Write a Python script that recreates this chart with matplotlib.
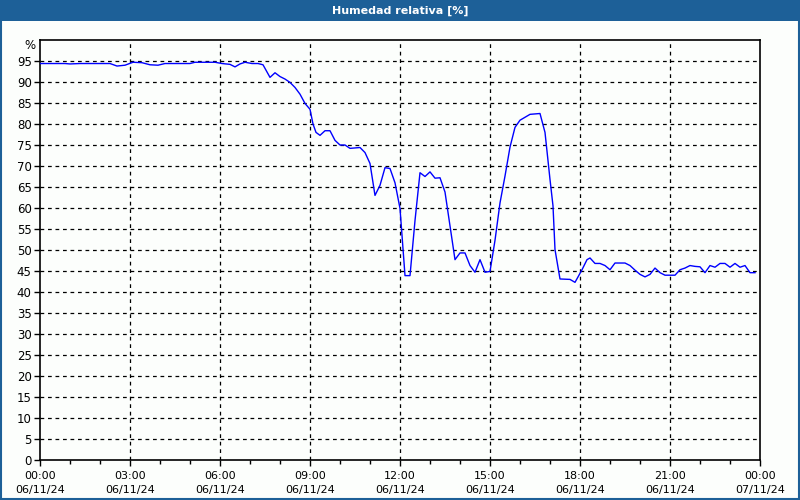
import matplotlib
matplotlib.use("Agg")
import matplotlib.pyplot as plt
from matplotlib.patches import Rectangle
from matplotlib.transforms import blended_transform_factory
import numpy as np

# ---- data (minutes after 00:00 on 06/11/24, relative humidity %) ----
minutes = [0, 50, 60, 80, 140, 154, 170, 186, 204, 220, 236, 250, 300, 310, 350, 364,
           380, 390, 400, 410, 424, 436, 446, 460, 470, 480, 490, 500, 510, 520, 530,
           540, 546, 552, 560, 570, 580, 590, 600, 610, 620, 640, 650, 660, 670, 680,
           690, 700, 710, 720, 730, 740, 750, 760, 770, 780, 790, 800, 810, 830, 840,
           850, 860, 870, 880, 890, 900, 910, 920, 930, 940, 950, 960, 980, 1000, 1010,
           1020, 1026, 1030, 1040, 1060, 1070, 1084, 1094, 1100, 1110, 1120, 1130, 1140,
           1150, 1170, 1180, 1190, 1200, 1210, 1220, 1230, 1240, 1250, 1270, 1280, 1290,
           1300, 1310, 1320, 1330, 1340, 1350, 1360, 1370, 1380, 1390, 1400, 1410, 1420,
           1430]
humidity = [94.4, 94.4, 94.3, 94.4, 94.4, 93.8, 94.0, 94.7, 94.6, 94.1, 94.0, 94.4, 94.4,
            94.7, 94.7, 94.4, 94.2, 93.6, 94.3, 94.7, 94.4, 94.4, 94.1, 91.1, 92.2, 91.3,
            90.7, 89.9, 88.7, 87.1, 84.9, 83.5, 80.0, 78.0, 77.3, 78.4, 78.4, 76.1, 75.0,
            75.0, 74.2, 74.4, 73.2, 70.6, 63.0, 65.4, 69.6, 69.4, 66.0, 59.9, 43.9, 43.9,
            57.0, 68.4, 67.5, 68.6, 67.1, 67.2, 63.8, 47.7, 49.3, 49.3, 46.3, 44.7, 47.7,
            44.7, 44.9, 52.3, 61.2, 67.6, 74.5, 79.2, 80.9, 82.3, 82.5, 78.0, 66.8, 60.5,
            50.1, 43.1, 43.0, 42.3, 45.3, 47.7, 48.1, 46.8, 46.8, 46.3, 45.3, 46.9, 46.9,
            46.3, 45.2, 44.2, 43.6, 44.2, 45.7, 44.6, 44.0, 44.0, 45.3, 45.7, 46.3, 46.1,
            46.0, 44.6, 46.3, 45.9, 46.8, 46.8, 45.9, 46.8, 45.9, 46.3, 44.6, 44.6]

x_tick_labels = ["00:00\n06/11/24", "03:00\n06/11/24", "06:00\n06/11/24",
                 "09:00\n06/11/24", "12:00\n06/11/24", "15:00\n06/11/24",
                 "18:00\n06/11/24", "21:00\n06/11/24", "00:00\n07/11/24"]
y_ticks = list(range(0, 100, 5))
title = "Humedad relativa [%]"
unit = "%"

# ---- figure ----
bg = "#FCFEFC"
bar_color = "#1D6098"
fig = plt.figure(figsize=(8, 5), dpi=100, facecolor=bg)
plt.rcParams["font.family"] = ["DejaVu Sans"]

# title bar and border
fig.patches.append(Rectangle((0, 1 - 21 / 500), 1, 21 / 500, transform=fig.transFigure,
                             facecolor=bar_color, edgecolor="none", zorder=0))
fig.patches.append(Rectangle((0.001, 0.002), 0.998, 0.996, transform=fig.transFigure,
                             facecolor="none", edgecolor=bar_color, lw=1.5, zorder=5))
fig.text(0.5, 1 - 10.5 / 500, title, color="white", fontsize=8, fontweight="bold",
         ha="center", va="center")

ax = fig.add_axes([40 / 800, 40 / 500, 720 / 800, 420 / 500])
ax.set_facecolor(bg)

hours = np.array(minutes) / 60.0
ax.plot(hours, humidity, color="#0000FF", lw=1.0, zorder=3)

ax.set_xlim(0, 24)
ax.set_ylim(0, 100)
ax.set_xticks(np.arange(0, 25, 3))
ax.set_xticklabels(x_tick_labels, fontsize=8, linespacing=1.45)
ax.set_xticks(np.arange(0, 25, 1), minor=True)
ax.set_yticks(y_ticks)
ax.set_yticklabels([str(v) for v in y_ticks], fontsize=8.5)

ax.tick_params(axis="x", which="major", length=4, width=1, pad=4, color="black")
ax.tick_params(axis="x", which="minor", length=3, width=1, color="black")
ax.tick_params(axis="y", which="major", length=4, width=1, pad=2, color="black")

for yv in y_ticks[1:]:
    ax.axhline(yv, color="black", lw=0.9, ls=(0, (3, 3)), zorder=1)
for xv in range(3, 24, 3):
    ax.axvline(xv, color="black", lw=0.9, ls=(0, (3, 3)), zorder=1)

for s in ax.spines.values():
    s.set_color("black")
    s.set_linewidth(1.2)

trans = blended_transform_factory(ax.transAxes, ax.transData)
ax.text(-0.006, 98.6, unit, transform=trans, ha="right", va="center", fontsize=8.5)

fig.savefig("out.png", dpi=100, facecolor=bg)
